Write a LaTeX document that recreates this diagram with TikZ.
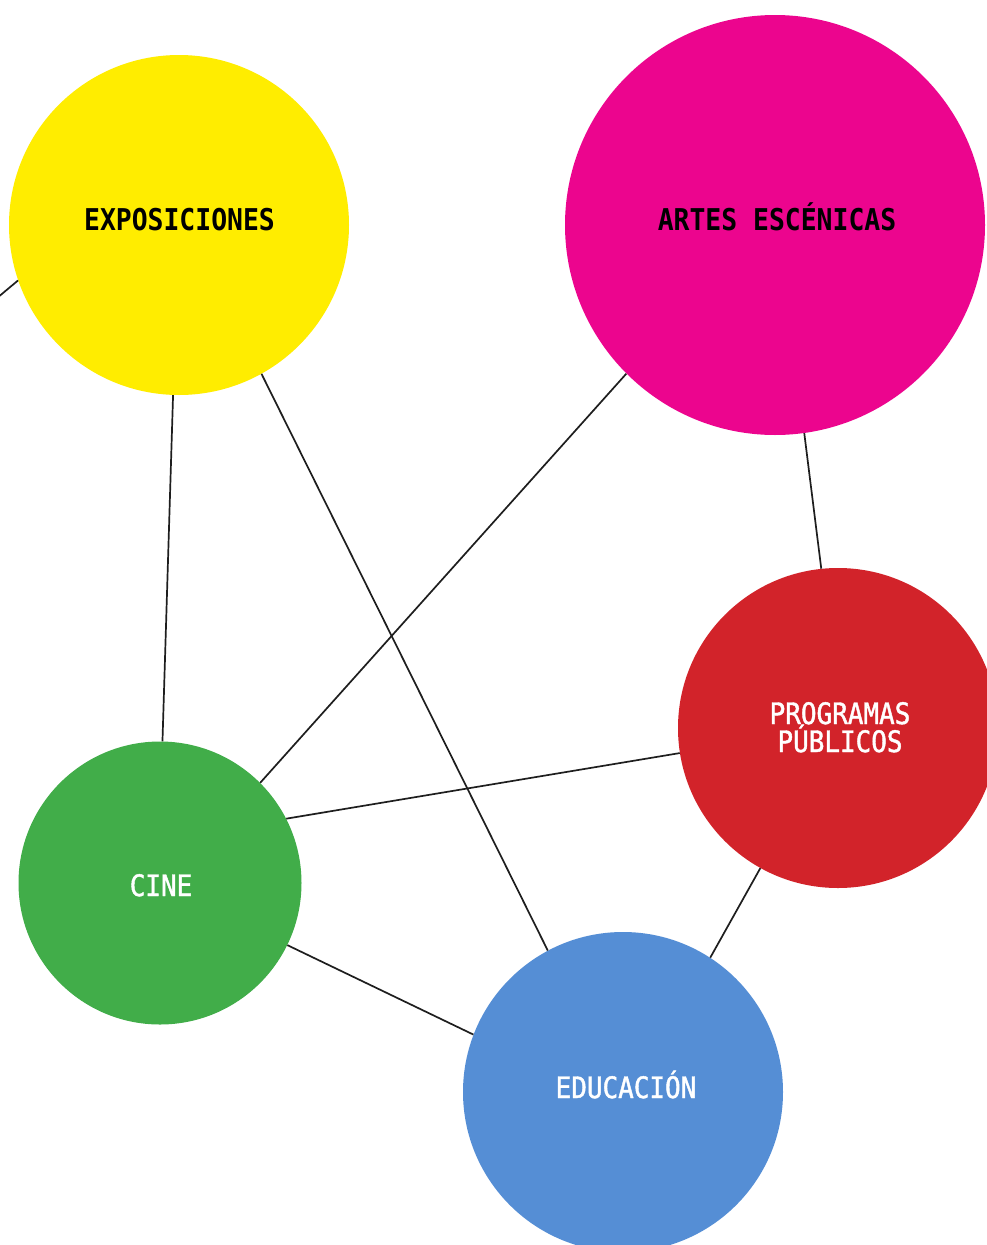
\documentclass[tikz,border=0pt]{standalone}
\usepackage{fontspec}
\newfontfamily\lblfont{DejaVu Sans Mono}[FakeStretch=0.88]
\newfontfamily\lightlblfont{DejaVu Sans Mono}[FakeStretch=0.88, FakeBold=1.4]
\definecolor{cyellow}{HTML}{FFED00}
\definecolor{cmagenta}{HTML}{EC058E}
\definecolor{cred}{HTML}{D2232A}
\definecolor{cgreen}{HTML}{41AD49}
\definecolor{cblue}{HTML}{558ED5}
\definecolor{cline}{HTML}{1E1E1E}
\tikzset{
  bubble/.style={circle, draw=none, inner sep=0pt},
  darktxt/.style={anchor=base, inner sep=0pt, text=black,
    font=\lblfont\bfseries\fontsize{30}{28}\selectfont},
  lighttxt/.style={anchor=base, inner sep=0pt, text=white, align=center,
    font=\lightlblfont\fontsize{29.5}{28}\selectfont},
  link/.style={draw=cline, line width=1.7pt}
}
\begin{document}
\begin{tikzpicture}[x=1pt,y=-1pt]
\useasboundingbox (0,0) rectangle (987,1245);
\clip (0,0) rectangle (987,1245);
\fill[white] (0,0) rectangle (987,1245);
% circles
\node[bubble, fill=cyellow, minimum size=340pt] (exp) at (179,225) {};
\node[bubble, fill=cmagenta, minimum size=420pt] (art) at (775,225) {};
\node[bubble, fill=cred, minimum size=320pt] (pro) at (838,728) {};
\node[bubble, fill=cgreen, minimum size=283pt] (cin) at (160,883) {};
\node[bubble, fill=cblue, minimum size=320pt] (edu) at (623,1092) {};
% labels
\node[darktxt] (expL) at (179.5,230) {EXPOSICIONES};
\node[darktxt] (artL) at (777,230) {ARTES ESCÉNICAS};
\node[lighttxt] (proL1) at (840,724) {PROGRAMAS};
\node[lighttxt] (proL2) at (840,752) {PÚBLICOS};
\node[lighttxt] (cinL) at (161,896) {CINE};
\node[lighttxt] (eduL) at (626,1098) {EDUCACIÓN};
\coordinate (off) at (-40,329);
% connectors
\draw[link] (exp.199) -- (off);
\draw[link] (exp.268) -- (cin.89);
\draw[link] (exp.299) -- (edu.118.5);
\draw[link] (art.225) -- (cin.45.6);
\draw[link] (art.278.5) -- (pro.96);
\draw[link] (pro.189.4) -- (cin.27.3);
\draw[link] (pro.241) -- (edu.57);
\draw[link] (cin.334) -- (edu.159);
\end{tikzpicture}
\end{document}
